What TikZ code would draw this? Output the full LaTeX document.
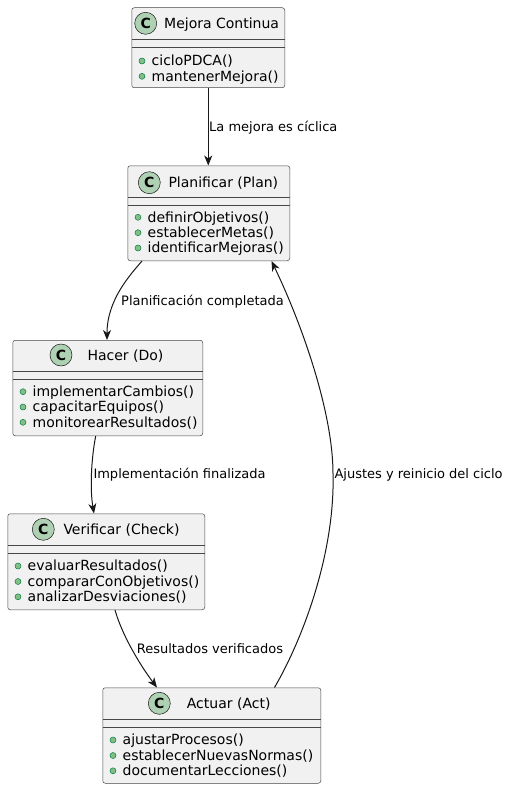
\documentclass[tikz,border=0pt]{standalone}
\usepackage{fontspec}
\setmainfont{DejaVu Sans}
\usetikzlibrary{arrows.meta,calc}
\definecolor{boxfill}{HTML}{F1F1F1}
\definecolor{boxdraw}{HTML}{181818}
\definecolor{circfill}{HTML}{ADD1B2}
\definecolor{bulfill}{HTML}{84BE84}
\definecolor{buldraw}{HTML}{038048}
\newcommand{\methrow}[4]{%
  \node[bulletdot] (#1b) at (#2+10.5,#3) {};
  \node[methtext] (#1t) at (#2+20,#3+4.9) {#4};}
\newcommand{\classframe}[7]{% id, L, T, R, B, sep1, sep2
  \node[classbox, minimum width={#4-#2}, minimum height={#5-#3}] (#1) at (#2,#3) {};
  \draw[sepline] (#2,#6) -- (#4,#6);
  \draw[sepline] (#2,#7) -- (#4,#7);}
\begin{document}
\begin{tikzpicture}[x=1pt,y=-1pt,
  classbox/.style={draw=boxdraw!80, fill=boxfill, line width=0.5pt, rounded corners=2.5pt, inner sep=0pt, anchor=north west},
  sepline/.style={draw=boxdraw!80, line width=0.5pt},
  ccirc/.style={circle, draw=boxdraw, fill=circfill, line width=0.5pt, minimum size=22pt, inner sep=0pt, font=\fontsize{14}{14}\selectfont\bfseries},
  titletext/.style={anchor=base west, inner sep=0pt, font=\fontsize{14}{16}\selectfont},
  methtext/.style={anchor=base west, inner sep=0pt, font=\fontsize{14}{16}\selectfont},
  bulletdot/.style={circle, draw=buldraw, fill=bulfill, minimum size=6pt, inner sep=0pt, line width=0.5pt},
  elabel/.style={anchor=base west, inner sep=0pt, font=\fontsize{13}{15}\selectfont},
  conn/.style={draw=boxdraw, line width=1pt, -{Stealth[length=10pt,width=8pt,inset=3pt]}}]
\useasboundingbox (0,0) rectangle (509,789);

% Mejora Continua
\classframe{mejora}{131.5}{7.5}{284.5}{87.5}{39}{47}
\node[ccirc] (mejorac) at (145.7,23.3) {C};
\node[titletext] (mejorat) at (164,28.3) {Mejora Continua};
\methrow{mejoraA}{131.5}{61}{cicloPDCA()}
\methrow{mejoraB}{131.5}{76.3}{mantenerMejora()}

% Planificar
\classframe{plan}{127.5}{165.5}{289.5}{260.5}{197.5}{205.5}
\node[ccirc] (planc) at (149.3,182.7) {C};
\node[titletext] (plant) at (168.3,187.7) {Planificar (Plan)};
\methrow{planA}{127.5}{217.3}{definirObjetivos()}
\methrow{planB}{127.5}{232.7}{establecerMetas()}
\methrow{planC}{127.5}{248}{identificarMejoras()}

% Hacer
\classframe{hacer}{12.5}{340}{202.5}{435.5}{371.5}{379}
\node[ccirc] (hacerc) at (61,355) {C};
\node[titletext] (hacert) at (87.3,360) {Hacer (Do)};
\methrow{hacerA}{12.5}{391.7}{implementarCambios()}
\methrow{hacerB}{12.5}{407}{capacitarEquipos()}
\methrow{hacerC}{12.5}{422.3}{monitorearResultados()}

% Verificar
\classframe{verif}{7.5}{513.5}{204.5}{609.5}{545.5}{553.5}
\node[ccirc] (verifc) at (43.3,529.3) {C};
\node[titletext] (verift) at (63.3,534.3) {Verificar (Check)};
\methrow{verifA}{7.5}{566}{evaluarResultados()}
\methrow{verifB}{7.5}{581.5}{compararConObjetivos()}
\methrow{verifC}{7.5}{596.8}{analizarDesviaciones()}

% Actuar
\classframe{act}{102.5}{687.5}{320.5}{783}{719.5}{727.5}
\node[ccirc] (actc) at (159.3,703.3) {C};
\node[titletext] (actt) at (186.7,708.3) {Actuar (Act)};
\methrow{actA}{102.5}{740}{ajustarProcesos()}
\methrow{actB}{102.5}{755.5}{establecerNuevasNormas()}
\methrow{actC}{102.5}{770.8}{documentarLecciones()}

% connectors
\draw[conn] (mejora.south) -- (mejora.south |- plan.north);
\draw[conn] ($(plan.south west)+(14.5,0)$) .. controls (130,275) and (107,300) .. ($(hacer.north west)+(94.5,0)$);
\draw[conn] ($(hacer.south west)+(83.2,0)$) .. controls (91,460) and (90,490) .. ($(verif.north west)+(86.5,0)$);
\draw[conn] ($(verif.south west)+(107.5,0)$) .. controls (122,635) and (140,665) .. ($(act.north west)+(54.5,0)$);
\coordinate (mid) at (333,474);
\draw[conn] ($(act.north east)+(-46.5,0)$) .. controls (305,635) and (335,550) .. (mid)
  .. controls (333,410) and (300,320) .. ($(plan.south east)+(-18.5,0)$);

% labels
\node[elabel] (l1) at (209,131.5) {La mejora es cíclica};
\node[elabel] (l2) at (121,305.5) {Planificación completada};
\node[elabel] (l3) at (93.3,478.8) {Implementación finalizada};
\node[elabel] (l4) at (334.3,478.8) {Ajustes y reinicio del ciclo};
\node[elabel] (l5) at (136.7,653.8) {Resultados verificados};
\end{tikzpicture}
\end{document}
